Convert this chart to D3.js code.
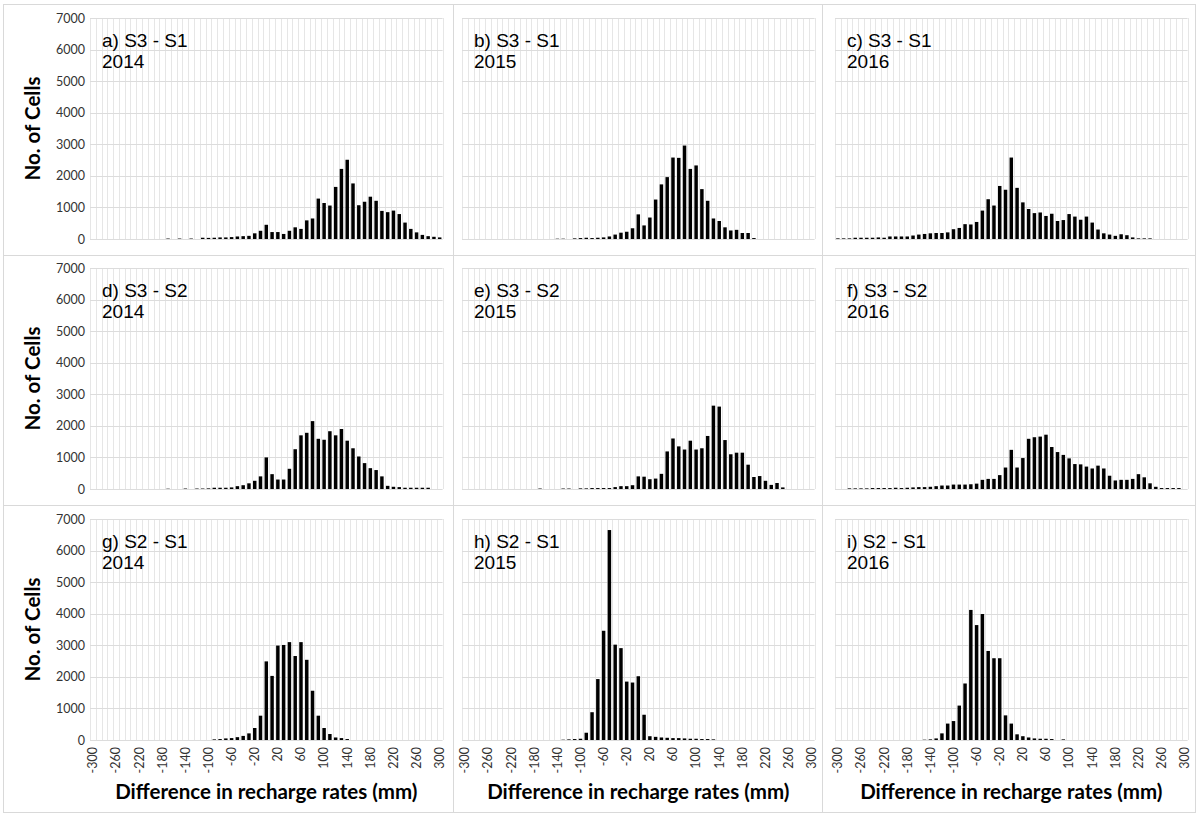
<!DOCTYPE html>
<html>
<head>
<meta charset="utf-8">
<script src="https://cdn.jsdelivr.net/npm/d3@7/dist/d3.min.js"></script>
<style>
	body { margin: 0; background: #fff; }
	svg { display: block; }
	.tick-label { font-family: Lato, "Open Sans", sans-serif; fill: #333; }
	.axis-title { font-family: Lato, "Open Sans", sans-serif; font-weight: bold; fill: #000; }
	.panel-label { font-family: "Liberation Sans", Arial, sans-serif; fill: #000; }
</style>
</head>
<body>
<svg id="chart" width="1200" height="816"></svg>
<script>
/*
 * 3x3 grid of histograms - difference in recharge rates between scenarios
 */

// bin centres (mm)
const binsMm = [
	-300, -290, -280, -270, -260, -250, -240, -230, -220, -210,
	-200, -190, -180, -170, -160, -150, -140, -130, -120, -110,
	-100, -90, -80, -70, -60, -50, -40, -30, -20, -10,
	0, 10, 20, 30, 40, 50, 60, 70, 80, 90,
	100, 110, 120, 130, 140, 150, 160, 170, 180, 190,
	200, 210, 220, 230, 240, 250, 260, 270, 280, 290,
	300
];

// every 4th bin gets a label
const xTickLabels = [-300, -260, -220, -180, -140, -100, -60, -20, 20, 60, 100, 140, 180, 220, 260, 300];
const yTickValues = [0, 1000, 2000, 3000, 4000, 5000, 6000, 7000];

// number of cells per bin
const s3s1_2014 = [
	0, 0, 0, 0, 0, 0, 0, 0, 0, 0,
	0, 0, 0, 15, 0, 15, 0, 15, 0, 40,
	35, 40, 50, 50, 60, 80, 90, 100, 180, 260,
	450, 220, 220, 160, 260, 370, 320, 590, 650, 1280,
	1140, 1060, 1650, 2220, 2510, 1760, 1070, 1180, 1340, 1210,
	890, 850, 900, 790, 520, 320, 210, 130, 90, 70,
	50
];
const s3s1_2015 = [
	0, 0, 0, 0, 0, 0, 0, 0, 0, 0,
	0, 0, 0, 0, 0, 0, 10, 10, 0, 20,
	30, 40, 30, 40, 50, 80, 140, 200, 230, 340,
	780, 430, 680, 1250, 1730, 1960, 2580, 2570, 2960, 2220,
	2330, 1580, 1210, 650, 570, 370, 270, 290, 190, 190,
	30, 0, 0, 0, 0, 0, 0, 0, 0, 0,
	0
];
const s3s1_2016 = [
	20, 20, 20, 40, 40, 40, 40, 50, 40, 80,
	80, 80, 80, 110, 140, 160, 180, 190, 190, 210,
	310, 350, 470, 460, 540, 900, 1260, 1060, 1680, 1560,
	2580, 1620, 1160, 950, 820, 840, 730, 800, 570, 600,
	790, 710, 610, 710, 520, 300, 180, 140, 100, 150,
	120, 50, 20, 20, 20, 0, 0, 0, 0, 0,
	0
];
const s3s2_2014 = [
	0, 0, 0, 0, 0, 0, 0, 0, 0, 0,
	0, 0, 0, 10, 0, 0, 15, 0, 15, 15,
	20, 40, 40, 40, 50, 90, 120, 180, 260, 400,
	1000, 470, 300, 300, 640, 1260, 1700, 1780, 2150, 1590,
	1560, 1830, 1700, 1900, 1530, 1290, 1030, 820, 660, 600,
	400, 100, 70, 60, 40, 40, 40, 40, 40, 0,
	0
];
const s3s2_2015 = [
	0, 0, 0, 0, 0, 0, 0, 0, 0, 0,
	0, 0, 0, 15, 0, 0, 0, 15, 15, 0,
	20, 20, 30, 30, 30, 30, 60, 90, 90, 120,
	400, 390, 310, 330, 480, 1190, 1600, 1350, 1250, 1530,
	1250, 1290, 1680, 2640, 2610, 1550, 1100, 1150, 1150, 770,
	380, 410, 260, 130, 190, 50, 0, 0, 0, 0,
	0
];
const s3s2_2016 = [
	0, 0, 20, 20, 20, 20, 30, 30, 30, 30,
	40, 30, 40, 50, 60, 60, 70, 90, 110, 110,
	140, 140, 140, 150, 170, 290, 320, 320, 440, 680,
	1240, 680, 980, 1590, 1640, 1660, 1720, 1330, 1170, 1080,
	970, 790, 780, 710, 650, 740, 650, 420, 270, 290,
	290, 320, 470, 370, 180, 70, 30, 30, 30, 30,
	0
];
const s2s1_2014 = [
	0, 0, 0, 0, 0, 0, 0, 0, 0, 0,
	0, 0, 0, 0, 0, 0, 0, 0, 0, 0,
	0, 20, 30, 50, 60, 90, 130, 210, 380, 770,
	2490, 2030, 2990, 3010, 3100, 2660, 3100, 2540, 1560, 770,
	380, 190, 80, 60, 30, 0, 0, 0, 0, 0,
	0, 0, 0, 0, 0, 0, 0, 0, 0, 0,
	0
];
const s2s1_2015 = [
	0, 0, 0, 0, 0, 0, 0, 0, 0, 0,
	0, 0, 0, 0, 0, 0, 0, 10, 20, 30,
	40, 230, 880, 1930, 3460, 6650, 3020, 2910, 1850, 1820,
	2020, 800, 120, 100, 80, 70, 60, 60, 50, 40,
	40, 30, 30, 20, 0, 0, 0, 0, 0, 0,
	0, 0, 0, 0, 0, 0, 0, 0, 0, 0,
	0
];
const s2s1_2016 = [
	0, 0, 0, 0, 0, 0, 0, 0, 0, 0,
	0, 0, 0, 0, 0, 10, 20, 50, 210, 520,
	600, 1090, 1790, 4120, 3640, 3990, 2820, 2590, 2590, 780,
	520, 180, 120, 80, 50, 40, 40, 30, 0, 20,
	0, 0, 0, 0, 0, 0, 0, 0, 0, 0,
	0, 0, 0, 0, 0, 0, 0, 0, 0, 0,
	0
];

const panels = [
	{ label: 'a) S3 - S1', year: '2014', values: s3s1_2014 },
	{ label: 'b) S3 - S1', year: '2015', values: s3s1_2015 },
	{ label: 'c) S3 - S1', year: '2016', values: s3s1_2016 },
	{ label: 'd) S3 - S2', year: '2014', values: s3s2_2014 },
	{ label: 'e) S3 - S2', year: '2015', values: s3s2_2015 },
	{ label: 'f) S3 - S2', year: '2016', values: s3s2_2016 },
	{ label: 'g) S2 - S1', year: '2014', values: s2s1_2014 },
	{ label: 'h) S2 - S1', year: '2015', values: s2s1_2015 },
	{ label: 'i) S2 - S1', year: '2016', values: s2s1_2016 }
];

// layout
const colLeft = [90, 462, 835],
	rowTop = [18, 268, 519],
	plotW = 352.6,
	plotH = 221,
	gridColor = '#dcdcdc',
	vGridColor = '#e6e6e6',
	frameColor = '#d9d9d9';

const svg = d3.select('#chart');

// frame lines between the panels
const frame = svg.append('g');
frame.append('rect')
	.attr('x', 3.5).attr('y', 4.5)
	.attr('width', 1192).attr('height', 808)
	.attr('fill', 'none').attr('stroke', frameColor);
[453.5, 822.5].forEach((x) => {
	frame.append('line').attr('x1', x).attr('x2', x).attr('y1', 4.5).attr('y2', 812.5)
		.attr('stroke', frameColor);
});
[255.5, 505.5].forEach((y) => {
	frame.append('line').attr('x1', 3.5).attr('x2', 1195.5).attr('y1', y).attr('y2', y)
		.attr('stroke', frameColor);
});

const x = d3.scaleBand()
	.domain(binsMm)
	.range([0, plotW])
	.paddingInner(0.4)
	.paddingOuter(0.2);

// boundaries between bins for the vertical gridlines
const edge = d3.scaleLinear()
	.domain([0, binsMm.length])
	.range([0, plotW]);

const y = d3.scaleLinear()
	.domain([0, 7000])
	.range([plotH, 0]);

function drawPanel(panel, idx) {
	const col = idx % 3,
		row = Math.floor(idx / 3),
		g = svg.append('g')
			.attr('transform', 'translate(' + colLeft[col] + ',' + rowTop[row] + ')');

	// vertical gridlines
	g.append('g').selectAll('line')
		.data(d3.range(binsMm.length + 1))
		.enter()
		.append('line')
		.attr('x1', (d) => Math.round(edge(d)) + 0.5)
		.attr('x2', (d) => Math.round(edge(d)) + 0.5)
		.attr('y1', 0)
		.attr('y2', plotH)
		.attr('stroke', vGridColor);

	// horizontal gridlines
	g.append('g').selectAll('line')
		.data(yTickValues)
		.enter()
		.append('line')
		.attr('x1', 0)
		.attr('x2', plotW)
		.attr('y1', (d) => Math.round(y(d)) + 0.5)
		.attr('y2', (d) => Math.round(y(d)) + 0.5)
		.attr('stroke', gridColor);

	// bars
	g.append('g').selectAll('rect')
		.data(binsMm.map((b, i) => ({ bin: b, value: panel.values[i] })))
		.enter()
		.append('rect')
		.attr('x', (d) => x(d.bin))
		.attr('width', x.bandwidth())
		.attr('y', (d) => y(d.value))
		.attr('height', (d) => plotH - y(d.value))
		.attr('fill', '#000');

	// y tick labels only on the left column
	if (col === 0) {
		const yAxis = d3.axisLeft(y)
			.tickValues(yTickValues)
			.tickFormat(d3.format('d'))
			.tickSize(0)
			.tickPadding(5);
		const ya = g.append('g').call(yAxis);
		ya.select('.domain').remove();
		ya.selectAll('text')
			.attr('class', 'tick-label')
			.style('font-size', '12.5px');

		g.append('text')
			.attr('class', 'axis-title')
			.attr('transform', 'translate(-50,' + (plotH / 2) + ') rotate(-90)')
			.attr('text-anchor', 'middle')
			.style('font-size', '20.5px')
			.text('No. of Cells');
	}

	// x tick labels + title only on the bottom row
	if (row === 2) {
		const xAxis = d3.axisBottom(x).tickValues(xTickLabels).tickSize(0);
		const xa = g.append('g')
			.attr('transform', 'translate(0,' + plotH + ')')
			.call(xAxis);
		xa.select('.domain').remove();
		xa.selectAll('text')
			.attr('class', 'tick-label')
			.style('font-size', '12.5px')
			.attr('text-anchor', 'end')
			.attr('transform', 'rotate(-90)')
			.attr('x', -7)
			.attr('y', 0)
			.attr('dy', '0.35em');

		g.append('text')
			.attr('class', 'axis-title')
			.attr('x', plotW / 2)
			.attr('y', 280)
			.attr('text-anchor', 'middle')
			.style('font-size', '20.5px')
			.text('Difference in recharge rates (mm)');
	}

	// panel label
	const lbl = g.append('text')
		.attr('class', 'panel-label')
		.attr('x', 12)
		.attr('y', 29)
		.style('font-size', '19px');
	lbl.append('tspan').attr('x', 12).text(panel.label);
	lbl.append('tspan').attr('x', 12).attr('dy', 21).text(panel.year);
}

panels.forEach(drawPanel);
</script>
</body>
</html>
